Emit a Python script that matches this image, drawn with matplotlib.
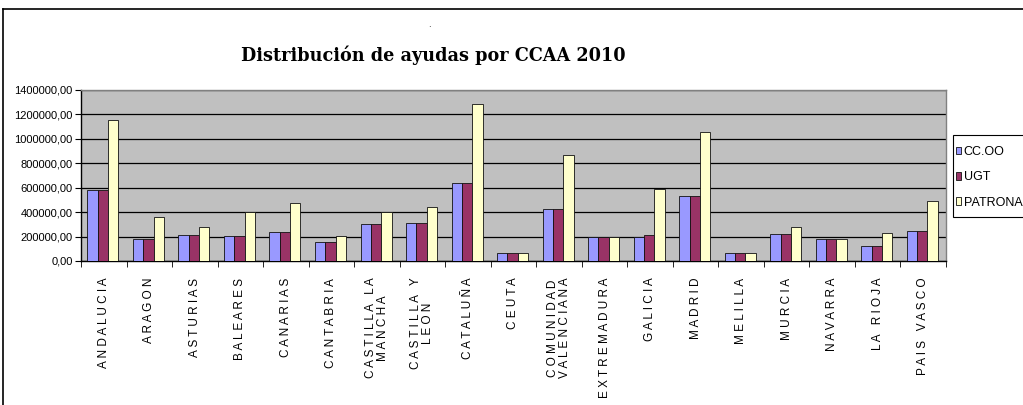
import matplotlib.pyplot as plt
import numpy as np
from matplotlib.ticker import FuncFormatter
from matplotlib.patches import Rectangle

regiones = ['ANDALUCIA', 'ARAGON', 'ASTURIAS', 'BALEARES', 'CANARIAS', 'CANTABRIA',
            'CASTILLA LA\nMANCHA', 'CASTILLA Y\nLEON', 'CATALUÑA', 'CEUTA',
            'COMUNIDAD\nVALENCIANA', 'EXTREMADURA', 'GALICIA', 'MADRID', 'MELILLA',
            'MURCIA', 'NAVARRA', 'LA RIOJA', 'PAIS VASCO']

ccoo = [580000, 181000, 214000, 203000, 236000, 159000, 299000, 310000, 638000, 63000,
        427000, 195000, 195000, 532000, 63000, 225000, 181000, 121000, 247000]
ugt = [580000, 181000, 214000, 203000, 236000, 159000, 299000, 310000, 638000, 63000,
       427000, 195000, 214000, 532000, 63000, 225000, 181000, 121000, 247000]
patronal = [1155000, 364000, 279000, 397000, 471000, 203000, 397000, 438000, 1282000, 63000,
            866000, 195000, 589000, 1058000, 63000, 279000, 181000, 233000, 490000]

series = [('CC.OO', ccoo, '#9999FF'), ('UGT', ugt, '#993366'), ('PATRONAL', patronal, '#FFFFCC')]


def spaced(txt):
    # excel style letter spacing
    return '\n'.join(' '.join(w) for w in txt.split('\n'))


fig = plt.figure(figsize=(10.23, 4.05), dpi=100)
ax = fig.add_axes([0.0792, 0.3556, 0.8455, 0.4222])
ax.set_facecolor('#C0C0C0')

x = np.arange(len(regiones))
w = 0.227
for i, (name, vals, col) in enumerate(series):
    ax.bar(x + (i - 1) * w - 0.02, vals, w, color=col, edgecolor='#111111', linewidth=0.6,
           label=name, zorder=3)

ax.set_ylim(0, 1400000)
ax.set_yticks(np.arange(0, 1400001, 200000))
ax.yaxis.set_major_formatter(FuncFormatter(lambda v, p: ('%.2f' % v).replace('.', ',')))
ax.grid(axis='y', color='black', linewidth=0.9, zorder=1)
ax.set_axisbelow(True)

ax.set_xlim(-0.5, len(regiones) - 0.5)
ax.set_xticks(x)
ax.set_xticklabels([spaced(r) for r in regiones], rotation=90, fontsize=8.5,
                   family=['Liberation Sans', 'DejaVu Sans'], linespacing=1.0)
ax.tick_params(axis='x', which='major', length=0, pad=12)
ax.set_xticks(np.arange(-0.5, len(regiones), 1), minor=True)
ax.tick_params(axis='x', which='minor', length=4, direction='out', color='black')
ax.tick_params(axis='y', length=4, direction='out', labelsize=8, pad=2)
for lab in ax.get_yticklabels():
    lab.set_family(['Liberation Sans', 'DejaVu Sans'])

ax.spines['left'].set_color('black')
ax.spines['bottom'].set_color('black')
ax.spines['top'].set_color('#808080')
ax.spines['right'].set_color('#808080')
for s in ax.spines.values():
    s.set_linewidth(1.0)

fig.text(0.424, 0.864, 'Distribución de ayudas por CCAA 2010', ha='center', va='center',
         fontsize=12.7, fontweight='bold', family=['DejaVu Serif'])
fig.text(0.42, 0.94, '.', ha='center', va='center', fontsize=6)

# legend box runs past the right edge of the picture, as in the original
fig.add_artist(Rectangle((953 / 1023, 1 - 217 / 405), 0.1, 82 / 405, transform=fig.transFigure,
                         facecolor='white', edgecolor='black', linewidth=0.8, zorder=4))
leg = fig.legend(loc='upper left', bbox_to_anchor=(956 / 1023, 1 - 146 / 405), frameon=False,
                 handlelength=0.42, handleheight=0.56, handletextpad=0.2, borderpad=0,
                 labelspacing=1.06, borderaxespad=0,
                 prop={'family': ['Liberation Sans', 'DejaVu Sans'], 'size': 9})
leg.set_zorder(5)

# outer chart frame
fig.add_artist(plt.Line2D([0.003, 0.003], [0.0, 0.978], color='black', linewidth=1.2))
fig.add_artist(plt.Line2D([0.003, 1.0], [0.978, 0.978], color='black', linewidth=1.2))

plt.savefig('out.png', dpi=100)
